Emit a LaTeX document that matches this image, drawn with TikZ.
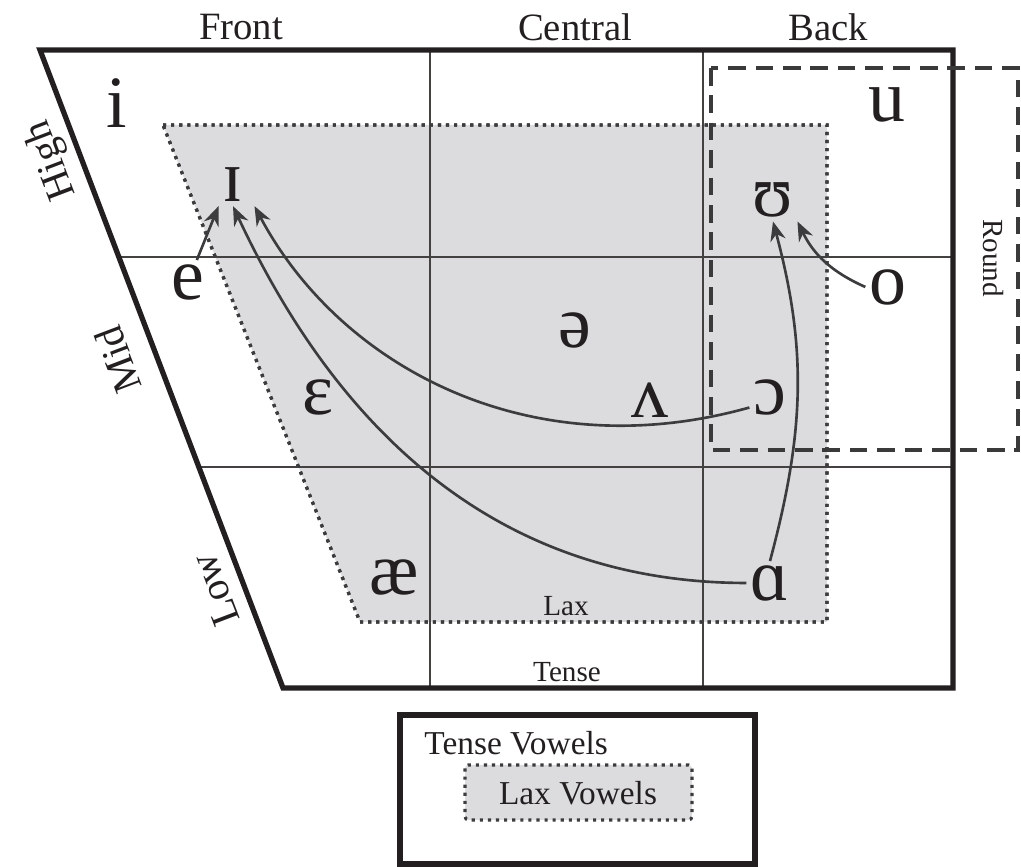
\documentclass[tikz,border=0pt]{standalone}
\usepackage{fontspec}
\setmainfont{Liberation Serif}
\usetikzlibrary{arrows.meta,positioning}
\definecolor{inkblack}{HTML}{231F20}
\definecolor{arrowgray}{HTML}{3C3C3E}
\definecolor{laxgray}{HTML}{DCDCDE}
\definecolor{roundgray}{HTML}{3A3A3A}
\tikzset{
  >={Stealth[length=5.5pt,width=4.4pt]},
  % vokaler
  vow/.style={inner sep=1pt,font=\fontsize{21}{21}\selectfont,text=inkblack},
  mv/.style={->,draw=arrowgray,line width=0.75pt},
  % etiketter
  axis/.style={font=\fontsize{11}{13}\selectfont,text=inkblack},
  side/.style={font=\fontsize{11.5}{13}\selectfont,text=inkblack,rotate=110.8},
  small/.style={font=\fontsize{8.3}{10}\selectfont,text=inkblack},
  legend/.style={font=\fontsize{9.5}{11}\selectfont,text=inkblack},
  % ramar
  frame/.style={draw=inkblack,line width=1.5pt,line join=miter},
  gridline/.style={draw=inkblack!85,line width=0.45pt},
  laxarea/.style={fill=laxgray,draw=arrowgray,line width=0.9pt,dash pattern=on 0.9pt off 1.4pt},
  roundbox/.style={draw=roundgray,line width=1.2pt,dash pattern=on 5pt off 2.8pt},
}
\begin{document}
\begin{tikzpicture}
\useasboundingbox (0,0) rectangle (10.21,8.67);
  % lax-omradet och rutnatet
  \draw[laxarea] (1.63,7.42) -- (8.27,7.42) -- (8.27,2.45) -- (3.60,2.45) -- cycle;
  \draw[gridline] (4.30,8.17) -- (4.30,1.79);
  \draw[gridline] (7.03,8.17) -- (7.03,1.79);
  \draw[gridline] (1.19,6.10) -- (9.53,6.10);
  \draw[gridline] (1.99,4.00) -- (9.53,4.00);
  \draw[laxarea,fill=none] (1.63,7.42) -- (8.27,7.42) -- (8.27,2.45) -- (3.60,2.45) -- cycle;
  \draw[frame] (0.40,8.17) -- (9.53,8.17) -- (9.53,1.79) -- (2.83,1.79) -- cycle;
  \draw[roundbox] (7.11,7.99) rectangle (10.18,4.17);
  % rubriker
  \node[axis] (front) at (2.41,8.40) {Front};
  \node[axis] (central) at (5.75,8.40) {Central};
  \node[axis] (back) at (8.28,8.40) {Back};
  \node[side] (high) at (0.52,7.07) {High};
  \node[side] (mid) at (1.18,5.07) {Mid};
  \node[side] (low) at (2.15,2.77) {Low};
  \node[small,rotate=-90] (round) at (9.93,6.09) {Round};
  \node[small] (lax) at (5.66,2.61) {Lax};
  \node[small] (tense) at (5.67,1.95) {Tense};
  % vokaler
  \node[vow] (i) at (1.17,7.64) {i};
  \node[vow] (u) at (8.87,7.62) {u};
  \node[vow] (I) at (2.33,6.82) {ɪ};
  \node[vow] (U) at (7.73,6.67) {ʊ};
  \node[vow] (e) at (1.88,5.85) {e};
  \node[vow] (o) at (8.88,5.80) {o};
  \node[vow] (schwa) at (5.75,5.37) {ə};
  \node[vow] (wedge) at (6.50,4.67) {ʌ};
  \node[vow] (eps) at (3.18,4.70) {ɛ};
  \node[vow] (openo) at (7.70,4.70) {ɔ};
  \node[vow] (ae) at (3.94,2.90) {æ};
  \node[vow] (alpha) at (7.70,2.84) {ɑ};
  % forskjutningar
  \draw[mv] (e) -- (I.south west);
  \draw[mv] (alpha.west) to[out=180,in=-65] (I.south);
  \draw[mv] ([yshift=-3pt]openo.west) .. controls (5.3,3.98) and (3.4,5.0) .. ([xshift=2pt]I.south east);
  \draw[mv] (alpha.north) to[out=75,in=-75] (U.south);
  \draw[mv] (o.west) to[bend left=20] (U.south east);
  % forklaring
  \draw[frame] (4.00,1.52) rectangle (7.55,0.03);
  \node[legend,anchor=west] (tv) at (4.12,1.24) {Tense Vowels};
  \draw[laxarea,rounded corners=1pt] (4.65,1.02) rectangle (6.92,0.47);
  \node[legend] (lv) at (5.78,0.74) {Lax Vowels};
\end{tikzpicture}
\end{document}
